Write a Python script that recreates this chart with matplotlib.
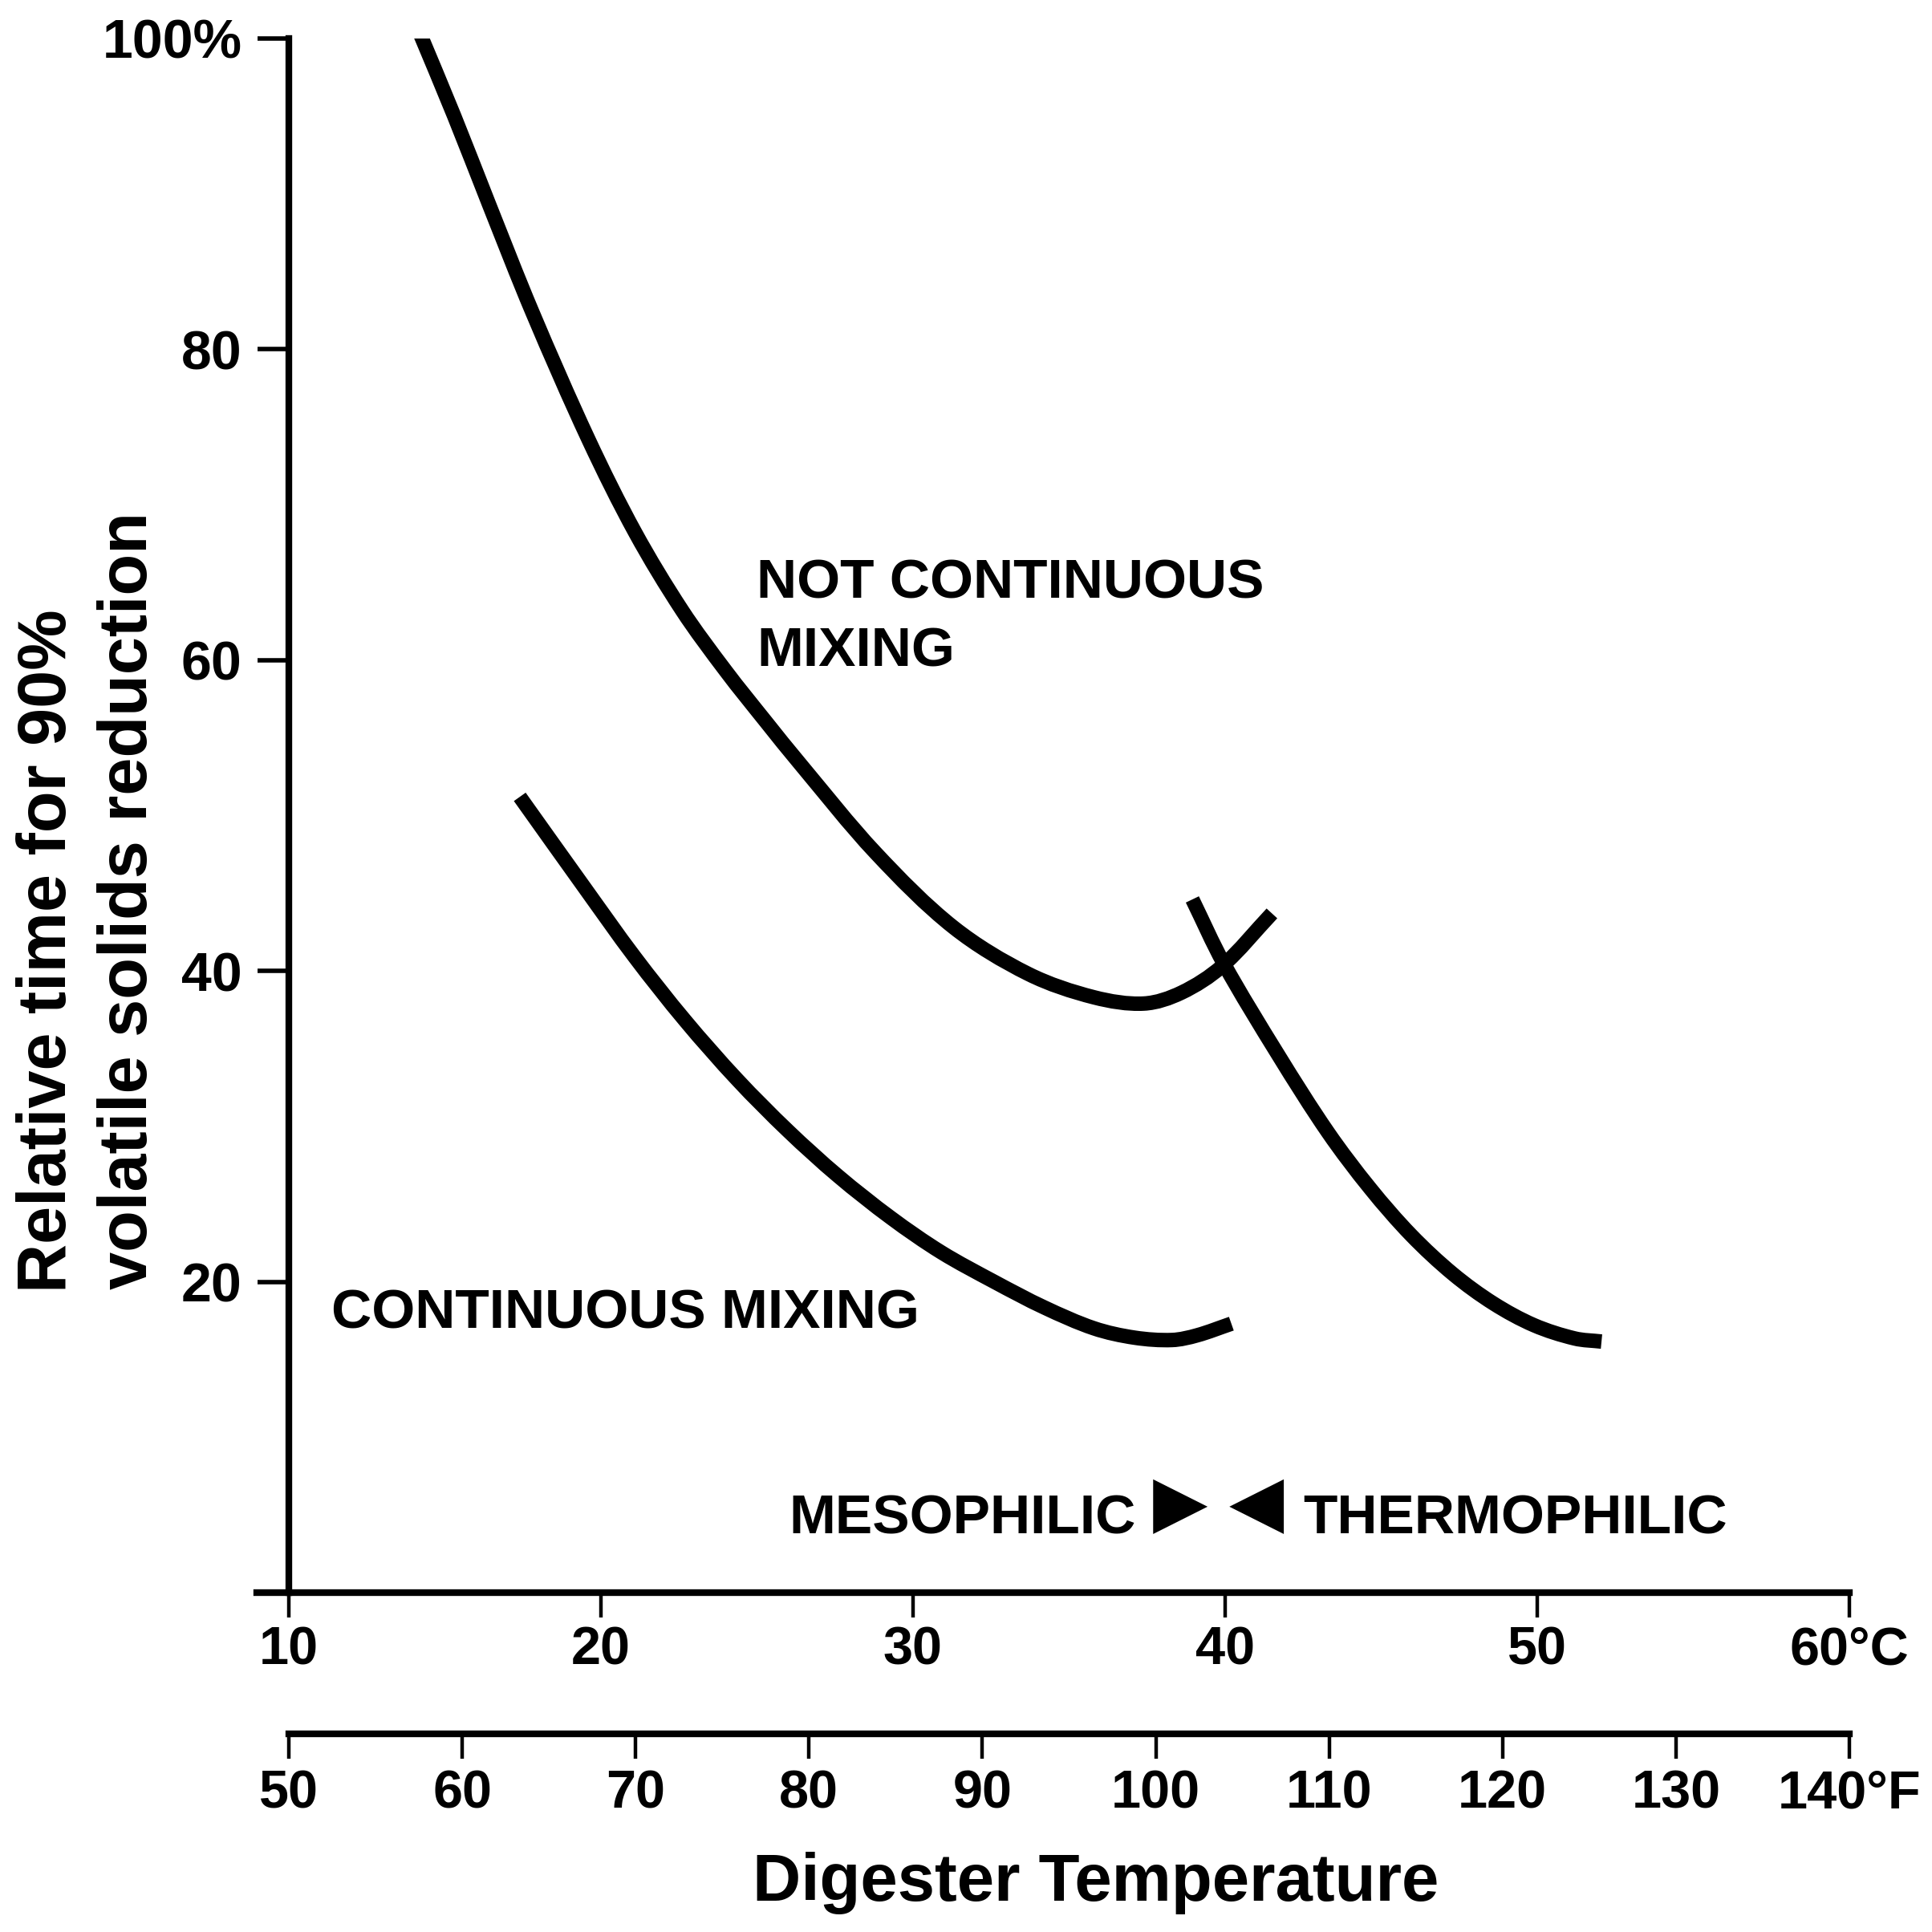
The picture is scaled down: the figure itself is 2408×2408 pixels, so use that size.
import numpy as np
import matplotlib
matplotlib.use('Agg')
import matplotlib.pyplot as plt
from matplotlib.path import Path
from matplotlib.patches import PathPatch

plt.rcParams['font.family'] = ['Liberation Sans', 'DejaVu Sans']
plt.rcParams['font.weight'] = 'bold'

# Curve: not continuous mixing (mesophilic)
notmix_temp = [14.1, 15.3, 16.4, 17.8, 19.6, 21.1, 22.6, 24.0, 25.3, 26.35,
               28.8, 31.3, 33.7, 35.8, 37.4, 38.6, 39.9, 41.5]
notmix_time = [100.8, 95.0, 89.4, 82.4, 74.2, 68.2, 63.2, 59.3, 56.0, 53.4,
               47.6, 42.8, 39.8, 38.3, 37.9, 38.6, 40.3, 43.7]

# Continuous mixing (mesophilic)
mix_temp = [17.4, 19.46, 21.08, 22.7, 24.37, 26.0, 27.6, 29.3, 30.9, 32.6,
            34.2, 35.8, 37.1, 38.3, 39.1, 40.2]
mix_time = [51.2, 45.4, 40.9, 36.8, 33.0, 29.7, 26.8, 24.1, 21.9, 20.0,
            18.35, 17.0, 16.4, 16.25, 16.55, 17.3]

# Thermophilic branch
thermo_temp = [38.95, 39.95, 41.7, 43.3, 44.65, 45.96, 47.3, 48.6, 49.9, 51.2, 52.06]
thermo_time = [44.6, 40.5, 34.6, 29.6, 26.0, 23.0, 20.5, 18.6, 17.2, 16.35, 16.15]

c_ticks = [10, 20, 30, 40, 50, 60]
c_labels = ['10', '20', '30', '40', '50', '60°C']
f_ticks = [50, 60, 70, 80, 90, 100, 110, 120, 130, 140]
f_labels = ['50', '60', '70', '80', '90', '100', '110', '120', '130', '140°F']
y_ticks = [20, 40, 60, 80, 100]
y_labels = ['20', '40', '60', '80', '100%']


def c_to_f(c):
    return np.asarray(c) * 9.0 / 5.0 + 32.0


def f_to_c(f):
    return (np.asarray(f) - 32.0) * 5.0 / 9.0


def smooth_path(xs, ys, sx=38.9, sy=19.4):
    # bezier path through the read points, handles sized by chord length
    pts = np.column_stack([xs, ys]).astype(float)
    scl = np.array([sx, sy])
    d = np.linalg.norm(np.diff(pts * scl, axis=0), axis=1)
    n = len(pts)
    tang = np.zeros_like(pts)
    for i in range(n):
        if i == 0:
            tang[i] = (pts[1] - pts[0]) / d[0]
        elif i == n - 1:
            tang[i] = (pts[-1] - pts[-2]) / d[-1]
        else:
            tang[i] = (pts[i + 1] - pts[i - 1]) / (d[i - 1] + d[i])
    verts = [pts[0]]
    codes = [Path.MOVETO]
    for i in range(n - 1):
        verts += [pts[i] + tang[i] * d[i] / 3.0,
                  pts[i + 1] - tang[i + 1] * d[i] / 3.0,
                  pts[i + 1]]
        codes += [Path.CURVE4] * 3
    return Path(verts, codes)


fig = plt.figure(figsize=(12.04, 12.04), dpi=200)
ax = fig.add_axes([0.1495, 0.1757, 0.8077, 0.8044])
ax.set_xlim(10, 60)
ax.set_ylim(0, 100)

for xs, ys in [(notmix_temp, notmix_time), (mix_temp, mix_time), (thermo_temp, thermo_time)]:
    ax.add_patch(PathPatch(smooth_path(xs, ys), facecolor='none', edgecolor='black',
                           linewidth=6.5, capstyle='butt', joinstyle='round'))

# axes styling
for side in ['top', 'right']:
    ax.spines[side].set_visible(False)
ax.spines['left'].set_linewidth(3)
ax.spines['bottom'].set_linewidth(3)
ax.spines['bottom'].set_bounds(8.97, 60)

ax.set_xticks(c_ticks)
ax.set_xticklabels(c_labels)
ax.set_yticks(y_ticks)
ax.set_yticklabels(y_labels)
ax.tick_params(axis='x', direction='out', length=11, width=1.6, pad=4, labelsize=24)
ax.tick_params(axis='y', direction='out', length=14, width=2, pad=7, labelsize=24.5)

sec = ax.secondary_xaxis(-0.0909, functions=(c_to_f, f_to_c))
sec.set_xticks(f_ticks)
sec.set_xticklabels(f_labels)
sec.spines['bottom'].set_linewidth(3)
sec.tick_params(axis='x', direction='out', length=11, width=1.6, pad=5, labelsize=24)

# annotations
ax.text(24.99, 64.0, 'NOT CONTINUOUS', fontsize=25, ha='left', va='baseline')
ax.text(24.99, 59.6, 'MIXING', fontsize=25, ha='left', va='baseline')
ax.text(11.36, 17.0, 'CONTINUOUS MIXING', fontsize=25, ha='left', va='baseline')
ax.text(37.15, 3.77, 'MESOPHILIC', fontsize=25, ha='right', va='baseline')
ax.text(42.49, 3.77, 'THERMOPHILIC', fontsize=25, ha='left', va='baseline')
ax.text(38.55, 4.35, '▶', fontsize=32, ha='center', va='baseline', family='DejaVu Sans')
ax.text(41.0, 4.35, '◀', fontsize=32, ha='center', va='baseline', family='DejaVu Sans')

# axis titles
fig.text(0.0341, 0.331, 'Relative time for 90%', fontsize=30.5, rotation=90,
         rotation_mode='anchor', ha='left', va='baseline')
fig.text(0.076, 0.3326, 'volatile solids reduction', fontsize=30.5, rotation=90,
         rotation_mode='anchor', ha='left', va='baseline')
fig.text(0.567, 0.0162, 'Digester Temperature', fontsize=30, ha='center', va='baseline')

fig.savefig('out.png', dpi=200, facecolor='white')
